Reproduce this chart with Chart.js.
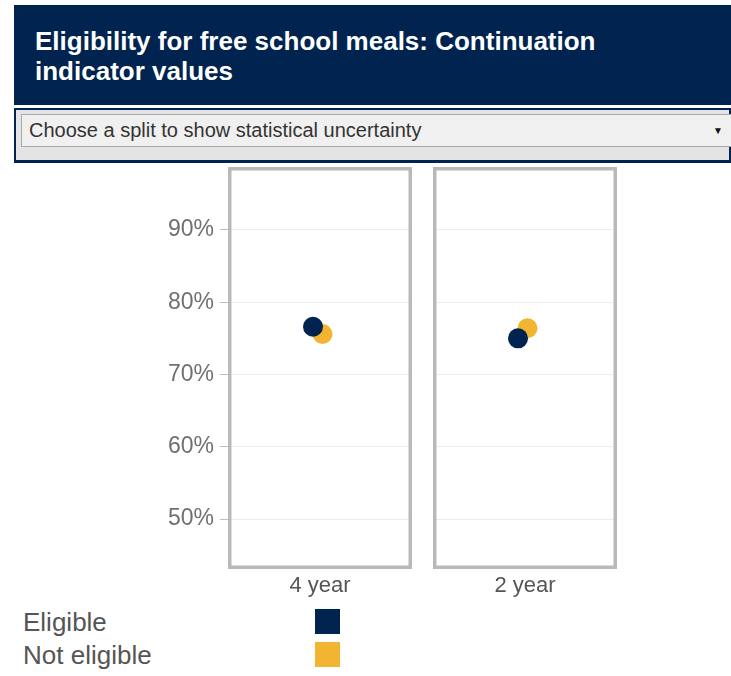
<!DOCTYPE html>
<html>
<head>
<meta charset="utf-8">
<script src="https://cdn.jsdelivr.net/npm/chart.js@4.4.1/dist/chart.umd.min.js"></script>
<style>
  body { margin: 0; width: 731px; height: 676px; background: #fff; font-family: "Liberation Sans", Arial, sans-serif; position: relative; overflow: hidden; }
  .header { position: absolute; left: 14px; top: 5px; width: 717px; height: 100px; background: #00234f; box-sizing: border-box; padding: 21px 0 0 21px; }
  .header h1 { margin: 0; color: #fff; font-size: 26px; font-weight: bold; line-height: 30px; }
  .picker { position: absolute; left: 14px; top: 108px; width: 717px; height: 55px; box-sizing: border-box; background: #e4e4e4; border: 2px solid #00234f; border-bottom-width: 3px; }
  .picker .field { position: absolute; left: 5px; top: 4px; right: -4px; height: 33px; box-sizing: border-box; background: #f0f0f0; border: 1px solid #a9a9a9; color: #333; font-size: 20px; line-height: 31px; padding-left: 7px; }
  .picker .arrow { position: absolute; right: 9px; top: 0; font-size: 10px; color: #111; }
  .panel { position: absolute; top: 160px; height: 440px; }
  #legend { position: absolute; left: 23px; top: 606px; }
  .key { position: relative; height: 33px; font-size: 26px; color: #555; line-height: 32px; }
  .swatch { position: absolute; left: 292px; top: 3px; width: 25px; height: 25px; }
</style>
</head>
<body>
<div class="header"><h1>Eligibility for free school meals: Continuation<br>indicator values</h1></div>
<div class="picker"><div class="field">Choose a split to show statistical uncertainty<span class="arrow">&#9660;</span></div></div>
<div class="panel" style="left:0; width:412px;"><canvas id="p0"></canvas></div>
<div class="panel" style="left:433px; width:184px;"><canvas id="p1"></canvas></div>
<div id="legend"></div>
<script>
const CATEGORIES = ['4 year', '2 year'];
const SERIES_NAMES = ['Eligible', 'Not eligible'];
const ELIGIBLE = [76.6, 75.0];
const NOT_ELIGIBLE = [75.6, 76.4];
const Y_TICKS = [50, 60, 70, 80, 90];
const Y_MIN = 43.1;
const Y_MAX = 98.7;

const SERIES_COLORS = ['#00234f', '#f2b531'];
// small sideways shift per series so the dots sit slightly apart
const X_SHIFT = [-0.076, 0.027];

const framePlugin = {
  id: 'frame',
  afterDraw(chart) {
    const { ctx, chartArea: a } = chart;
    ctx.save();
    ctx.strokeStyle = '#b9b9b9';
    ctx.lineWidth = 3.5;
    ctx.strokeRect(a.left + 1.75, a.top + 1.75, a.width - 3.5, a.height - 3.5);
    ctx.restore();
  },
};

function noPadding(scale) {
  scale.paddingLeft = scale.paddingRight = scale.paddingTop = scale.paddingBottom = 0;
}

function renderPanel(canvas, i, withAxis) {
  const values = [ELIGIBLE[i], NOT_ELIGIBLE[i]];
  new Chart(canvas, {
    type: 'scatter',
    data: {
      datasets: SERIES_NAMES.map((name, s) => ({
        label: name,
        data: [{ x: X_SHIFT[s], y: values[s] }],
        backgroundColor: SERIES_COLORS[s],
        borderWidth: 0,
        pointRadius: 10,
        pointHoverRadius: 10,
      })),
    },
    options: {
      responsive: true,
      maintainAspectRatio: false,
      animation: false,
      layout: { autoPadding: false, padding: { top: 7, right: 0, bottom: 0, left: 0 } },
      plugins: { legend: { display: false }, tooltip: { enabled: false } },
      scales: {
        x: {
          type: 'linear',
          min: -1,
          max: 1,
          afterBuildTicks: (scale) => { scale.ticks = [{ value: 0 }]; },
          afterFit: (scale) => { scale.height = 31; noPadding(scale); },
          grid: { display: false, drawTicks: false },
          border: { display: false },
          ticks: {
            padding: 4,
            color: '#555',
            font: { size: 22, family: 'Liberation Sans' },
            callback: () => CATEGORIES[i],
          },
        },
        y: {
          min: Y_MIN,
          max: Y_MAX,
          afterBuildTicks: (scale) => { scale.ticks = Y_TICKS.map(v => ({ value: v })); },
          afterFit: (scale) => { scale.width = withAxis ? 228 : 0; noPadding(scale); },
          border: { display: false },
          grid: { color: '#ececec', tickColor: '#bdbdbd', drawTicks: withAxis, tickLength: 8 },
          ticks: {
            display: withAxis,
            padding: 6,
            color: '#707070',
            font: { size: 23, family: 'Liberation Sans' },
            callback: (v) => v + '%',
          },
        },
      },
    },
    plugins: [framePlugin],
  });
}

renderPanel(document.getElementById('p0'), 0, true);
renderPanel(document.getElementById('p1'), 1, false);

const legend = document.getElementById('legend');
SERIES_NAMES.forEach((name, s) => {
  const row = document.createElement('div');
  row.className = 'key';
  row.innerHTML = `${name}<span class="swatch" style="background:${SERIES_COLORS[s]}"></span>`;
  legend.appendChild(row);
});
</script>
</body>
</html>
